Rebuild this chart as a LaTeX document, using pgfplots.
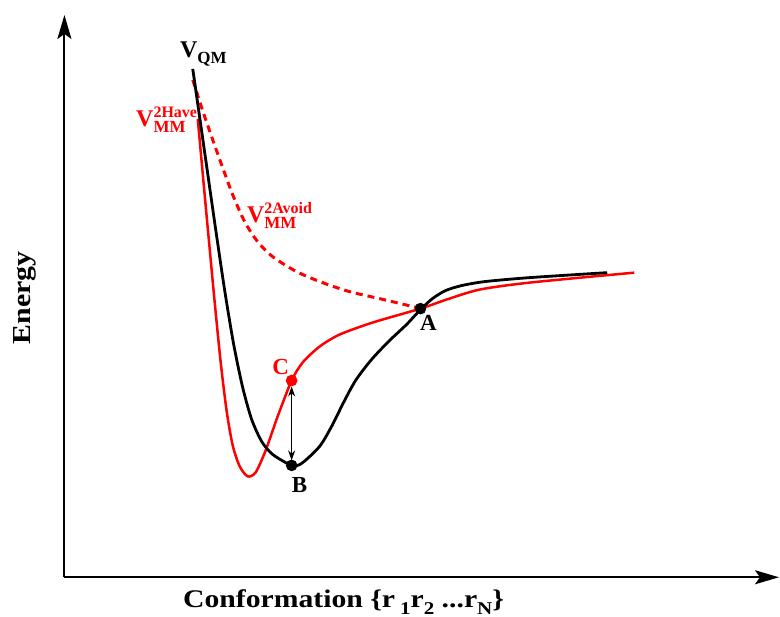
\documentclass[border=0pt]{standalone}
\usepackage{pgfplots}
\pgfplotsset{compat=1.18}
\usepackage{fontspec}
\setmainfont{Liberation Serif}
\usetikzlibrary{arrows.meta}
\newcommand{\supsub}[2]{\makebox[0pt][l]{\raisebox{0.85ex}{\fontsize{8}{9}\selectfont #1}}\raisebox{-0.55ex}{\fontsize{8.5}{9}\selectfont #2}}
\begin{document}
\begin{tikzpicture}
\begin{axis}[
  scale only axis, width=390pt, height=308.5pt,
  xmin=0, xmax=780, ymin=0, ymax=617,
  axis lines=none, clip=false, ticks=none,
]
\path (axis cs:0,0) rectangle (axis cs:780,617);
% axes
\addplot[black, line width=1pt, -{Stealth[length=12pt,width=7pt,inset=2.5pt]}] coordinates {(64.5,39) (64.5,602)};
\addplot[black, line width=1pt, -{Stealth[length=12pt,width=7pt,inset=2.5pt]}] coordinates {(64.5,39) (780,39)};
% red dashed V_MM^2Avoid
\addplot[red, line width=1.5pt, dash pattern=on 3.5pt off 2.5pt, smooth, tension=0.5] coordinates {
(193,537) (203,506) (213,477) (223,449) (233,422) (245,395) (258,375) (273,360) (297,345) (323,334) (350,325) (380,318) (422,308)};
% red solid V_MM^2Have
\addplot[red, line width=1.25pt, smooth, tension=0.45] coordinates {
(198,498) (203,443) (209,378) (215,314) (221,254) (227,205) (233,171) (240,150) (248,140) (256,144) (266,166) (278,200) (292,236) (303,254) (320,270) (340,282) (373,294) (421,308) (447,317) (480,327) (530,334) (635,344)};
% black V_QM
\addplot[black, line width=1.4pt, smooth, tension=0.45] coordinates {
(193,548) (200,499) (208,443) (216,387) (225,326) (234,272) (243,229) (252,197) (262,175) (273,162) (292,151) (302,153) (320,170) (332,190) (344,214) (356,236) (372,257) (390,276) (407,292) (421,307) (433,318) (446,326) (462,331) (485,335) (530,339) (608,344)};
% arrow C-B
\addplot[black, line width=0.5pt, {Stealth[length=5pt,width=3.5pt]}-{Stealth[length=5pt,width=3.5pt]}] coordinates {(292,230) (292,156)};
% points
\addplot[only marks, mark=*, mark size=2.7pt, black] coordinates {(292,151) (421,308)};
\addplot[only marks, mark=*, mark size=2.7pt, red] coordinates {(292,236)};
% labels
\node[anchor=base west, font=\bfseries\fontsize{12}{14}\selectfont, inner sep=0pt] at (axis cs:180,559) {V\raisebox{-0.55ex}{\fontsize{8.5}{9}\selectfont QM}};
\node[anchor=base west, font=\bfseries\fontsize{12}{14}\selectfont, inner sep=0pt, text=red] at (axis cs:136,490) {V\supsub{2Have}{MM}};
\node[anchor=base west, font=\bfseries\fontsize{12}{14}\selectfont, inner sep=0pt, text=red] at (axis cs:247,394) {V\supsub{2Avoid}{MM}};
\node[font=\bfseries\fontsize{11.5}{13}\selectfont, text=red] at (axis cs:281,250) {C};
\node[font=\bfseries\fontsize{11.5}{13}\selectfont] at (axis cs:300,131) {B};
\node[font=\bfseries\fontsize{11.5}{13}\selectfont] at (axis cs:429,294) {A};
\node[rotate=90, font=\bfseries\fontsize{13}{15}\selectfont] at (axis cs:25,319) {\scalebox{1.15}[1]{Energy}};
\node[anchor=base west, font=\bfseries\fontsize{12.7}{14}\selectfont, inner sep=0pt] at (axis cs:183,9) {\scalebox{1.17}[1]{Conformation \{r\,\raisebox{-0.6ex}{\fontsize{9}{10}\selectfont 1}r\raisebox{-0.6ex}{\fontsize{9}{10}\selectfont 2} ...r\raisebox{-0.6ex}{\fontsize{9}{10}\selectfont N}\}}};
\end{axis}
\end{tikzpicture}
\end{document}
